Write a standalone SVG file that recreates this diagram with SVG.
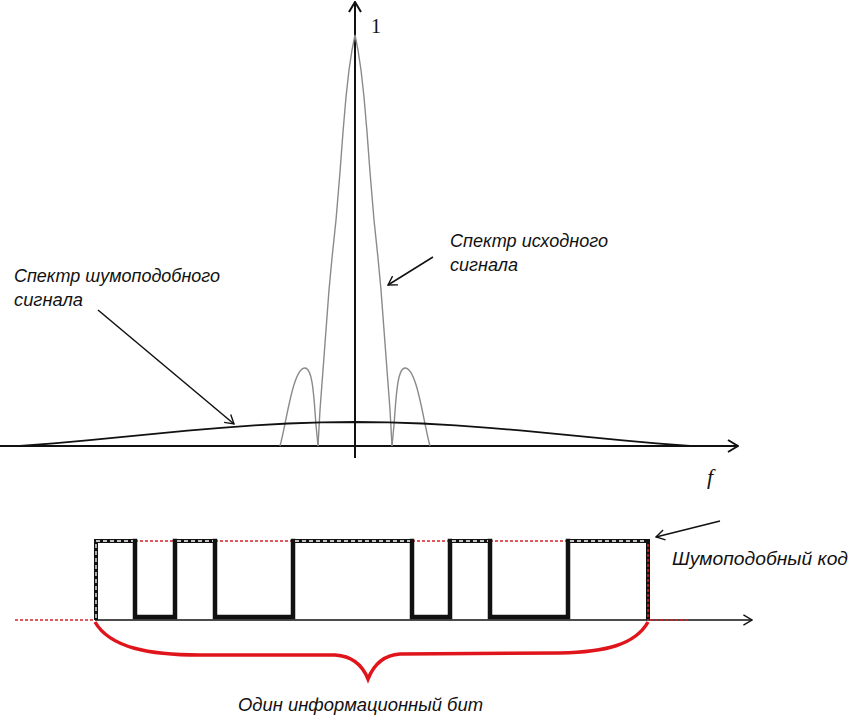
<svg xmlns="http://www.w3.org/2000/svg" width="850" height="716" viewBox="0 0 850 716">
<style>
.lbl{font-family:"Liberation Sans","DejaVu Sans",sans-serif;font-style:italic;font-size:18px;fill:#111}
.ser{font-family:"Liberation Serif","DejaVu Serif",serif;fill:#111}
.ax{stroke:#111;stroke-width:2;fill:none}
.gray{stroke:#8a8a8a;stroke-width:1.4;fill:none}
.thin{stroke:#111;stroke-width:1.5;fill:none}
.thick{stroke:#111;stroke-width:4.5;fill:none;stroke-linecap:square}
.wdash{stroke:#fff;stroke-width:1.3;stroke-dasharray:4 3;fill:none}
.rdash{stroke:#d8202a;stroke-width:1.5;stroke-dasharray:3 2;fill:none}
</style>
<defs>
<marker id="v" viewBox="0 0 12 14" refX="11" refY="7" markerWidth="12" markerHeight="14" markerUnits="userSpaceOnUse" orient="auto">
<path d="M1,1 L11,7 L1,13" fill="none" stroke="#111" stroke-width="2"/>
</marker>
<marker id="vs" viewBox="0 0 12 14" refX="11" refY="7" markerWidth="11" markerHeight="12" markerUnits="userSpaceOnUse" orient="auto">
<path d="M1,1 L11,7 L1,13" fill="none" stroke="#111" stroke-width="1.6"/>
</marker>
</defs>
<rect width="850" height="716" fill="#fff"/>

<g id="spectrum-axes">
<line class="ax" x1="0" y1="446" x2="738" y2="446" marker-end="url(#v)"/>
<line class="ax" x1="355" y1="458" x2="355" y2="2" marker-end="url(#v)"/>
<text class="ser" x="371" y="33" font-size="20">1</text>
<text class="ser" x="707" y="484" font-size="22" font-style="italic">f</text>
</g>

<g id="source-spectrum">
<polyline class="gray" points="318,446 320,410 323,370 326,330 329,290 332,258 336,220 340,172 343,132 346,97 349,70 352,50 355,35 358,50 361,70 364,97 367,132 370,172 374,220 378,258 381,290 384,330 387,370 390,410 392,446"/>
<path class="gray" d="M280,446 C287,420 293,368 305,368 C313,368 314,400 316,425 L318,446"/>
<path class="gray" d="M392,446 L394,425 C396,400 397,368 405,368 C417,368 423,420 430,446"/>
</g>

<g id="spread-spectrum">
<polyline fill="none" stroke="#111" stroke-width="1.8" points="20,446 53.5,443.4 87,440.4 120.5,437.2 154,433.9 187.5,430.7 221,427.8 254.5,425.4 288,423.5 321.5,422.4 355,422 388.5,422.4 422,423.5 455.5,425.4 489,427.8 522.5,430.7 556,433.9 589.5,437.2 623,440.4 656.5,443.4 690,446"/>
</g>

<g id="label-spread">
<text class="lbl" x="14" y="282" textLength="206" lengthAdjust="spacingAndGlyphs">Спектр шумоподобного</text>
<text class="lbl" x="14" y="306" textLength="69" lengthAdjust="spacingAndGlyphs">сигнала</text>
</g>

<g id="label-source">
<text class="lbl" x="450" y="247" textLength="158" lengthAdjust="spacingAndGlyphs">Спектр исходного</text>
<text class="lbl" x="450" y="271" textLength="68" lengthAdjust="spacingAndGlyphs">сигнала</text>
</g>

<g id="code-axis">
<line class="rdash" x1="15" y1="620" x2="95" y2="620"/>
<line x1="95" y1="620" x2="752" y2="620" stroke="#111" stroke-width="1.5" marker-end="url(#vs)"/>
<line class="rdash" x1="650" y1="620" x2="690" y2="620"/>
</g>

<g id="pn-code">
<line class="rdash" x1="135" y1="541" x2="175" y2="541"/>
<line class="rdash" x1="215" y1="541" x2="293" y2="541"/>
<line class="rdash" x1="412" y1="541" x2="450" y2="541"/>
<line class="rdash" x1="490" y1="541" x2="568" y2="541"/>
<polyline class="thick" points="135,541 135,617 175,617 175,541"/>
<polyline class="thick" points="215,541 215,617 293,617 293,541"/>
<polyline class="thick" points="412,541 412,617 450,617 450,541"/>
<polyline class="thick" points="490,541 490,617 568,617 568,541"/>
<polyline fill="none" stroke="#111" stroke-width="4" points="96,620 96,541 135,541"/>
<line x1="175" y1="541" x2="215" y2="541" stroke="#111" stroke-width="4"/>
<line x1="293" y1="541" x2="412" y2="541" stroke="#111" stroke-width="4"/>
<line x1="450" y1="541" x2="490" y2="541" stroke="#111" stroke-width="4"/>
<polyline fill="none" stroke="#111" stroke-width="4" points="568,541 648,541 648,620"/>
<polyline class="wdash" points="96,618 96,541 133,541"/>
<line class="wdash" x1="177" y1="541" x2="213" y2="541"/>
<line class="wdash" x1="295" y1="541" x2="410" y2="541"/>
<line class="wdash" x1="452" y1="541" x2="488" y2="541"/>
<line class="wdash" x1="570" y1="541" x2="646" y2="541"/>
<line class="rdash" x1="648" y1="544" x2="648" y2="620"/>
</g>

<g id="label-code">
<text class="lbl" x="672" y="565" textLength="176" lengthAdjust="spacingAndGlyphs">Шумоподобный код</text>
</g>

<g id="brace">
<path d="M95,622 C110,648 150,655 200,655 L335,655 C352,656 362,664 368,679 C374,664 384,655 400,654 L560,653 C605,652 635,645 648,622" fill="none" stroke="#e0151b" stroke-width="3.5"/>
<text class="lbl" x="238" y="711" textLength="245" lengthAdjust="spacingAndGlyphs">Один информационный бит</text>
</g>

<g id="connectors">
<line class="thin" x1="98" y1="310" x2="234" y2="424" marker-end="url(#vs)"/>
<line class="thin" x1="433" y1="257" x2="388" y2="285" marker-end="url(#vs)"/>
<line class="thin" x1="720" y1="521" x2="656" y2="537" marker-end="url(#vs)"/>
</g>
</svg>
